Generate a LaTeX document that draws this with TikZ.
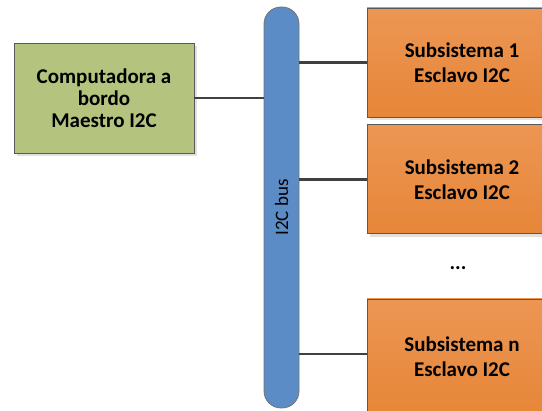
\documentclass[tikz,border=0pt]{standalone}
\usepackage{fontspec}
\setmainfont{Carlito}
\usepackage{tikz}
\usetikzlibrary{positioning,shadows}
\definecolor{obcgreen}{RGB}{180,196,126}
\definecolor{busblue}{RGB}{92,140,198}
\definecolor{subtop}{RGB}{236,150,84}
\definecolor{subbot}{RGB}{230,134,56}
\definecolor{wiregray}{RGB}{64,64,64}

\begin{document}
\begin{tikzpicture}[
    x=1pt, y=-1pt,
    box/.style={draw=black!65, line width=0.8pt, align=center, inner sep=2pt,
        font=\fontsize{21}{25}\selectfont\bfseries,
        drop shadow={shadow xshift=3pt, shadow yshift=-3pt, fill=black!12, opacity=1}},
    master/.style={box, fill=obcgreen, minimum width=180pt, minimum height=110pt,
        font=\fontsize{21}{22}\selectfont\bfseries},
    slave/.style={box, top color=subtop, bottom color=subbot, minimum width=190pt},
    bus/.style={draw=black!55, line width=0.8pt, fill=busblue, minimum width=35pt,
        minimum height=401pt, rounded corners=17pt, inner sep=0pt},
    wire/.style={draw=wiregray, line width=2.5pt},
]
\useasboundingbox (0,0) rectangle (542,411);
\clip (0,0) rectangle (542,411);

% bus
\node[bus] (i2c) at (281.5,207.5) {};
\node[rotate=90, font=\fontsize{19}{22}\selectfont] (i2clabel) at (i2c) {I2C bus};

% master
\node[master] (obc) at (104,98) {Computadora a\\bordo\\Maestro I2C};

% slaves
\node[slave, minimum height=109pt] (sub1) at (462,62.5) {Subsistema 1\\Esclavo I2C};
\node[slave, minimum height=109pt, below=7pt of sub1] (sub2) {Subsistema 2\\Esclavo I2C};
\node[font=\fontsize{21}{25}\selectfont\bfseries] (dots) at (458,268) {...};
\node[slave, minimum height=115pt] (subn) at (462,356.5) {Subsistema n\\Esclavo I2C};

% wires
\draw[wire] (obc.east) -- (obc.east -| i2c.west);
\draw[wire] (sub1.west) -- (sub1.west -| i2c.east);
\draw[wire] (sub2.west) -- (sub2.west -| i2c.east);
\draw[wire] ([yshift=2.5pt]subn.west) -- ([yshift=2.5pt]subn.west -| i2c.east);
\end{tikzpicture}
\end{document}
